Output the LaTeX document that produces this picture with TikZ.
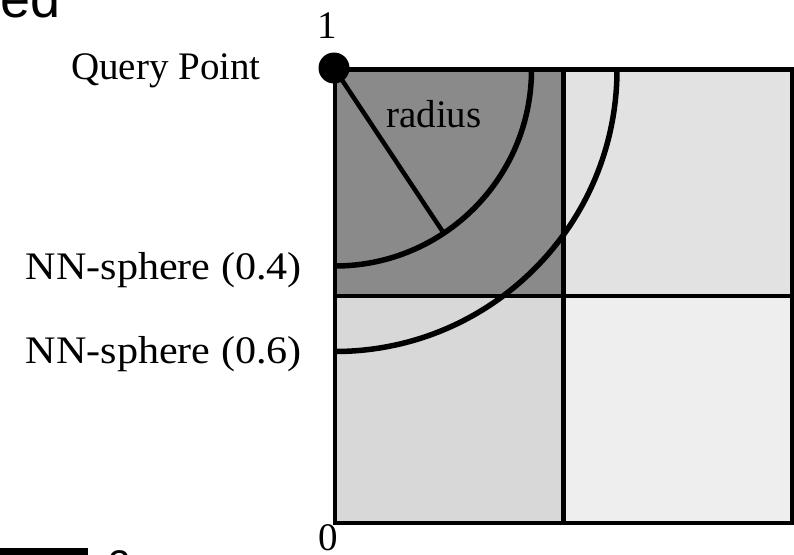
\documentclass[tikz,border=0pt]{standalone}
\usepackage{fontspec}
\setmainfont{Liberation Serif}
\newfontfamily\slidesans{Liberation Sans}
\usetikzlibrary{calc}
\definecolor{qdark}{RGB}{138,138,138}
\definecolor{qtopright}{RGB}{226,226,226}
\definecolor{qbotleft}{RGB}{216,216,216}
\definecolor{qbotright}{RGB}{238,238,238}
\begin{document}
\begin{tikzpicture}[x=1pt,y=1pt,
  lbl/.style={inner sep=0pt, font=\fontsize{39}{42}\selectfont},
  gridline/.style={line width=4.5pt},
  sphereline/.style={line width=5.5pt},
]
\useasboundingbox (0,0) rectangle (794,-554);
% quadrant fills
\fill[qdark]     (335,-69.5) rectangle (563.5,-296);
\fill[qtopright] (563.5,-69.5) rectangle (792,-296);
\fill[qbotleft]  (335,-296) rectangle (563.5,-523);
\fill[qbotright] (563.5,-296) rectangle (792,-523);
% grid
\draw[gridline] (335,-69.5) rectangle (792,-523);
\draw[gridline] (563.5,-69.5) -- (563.5,-523);
\draw[gridline] (335,-296) -- (792,-296);
% query point
\coordinate (qp) at (335,-69.5);
\draw[sphereline] (qp) ++(0,-196.5) arc[start angle=-90, end angle=0, radius=196.5];
\draw[sphereline] (qp) ++(0,-282) arc[start angle=-90, end angle=0, radius=282];
\coordinate (rend) at ($(qp)+(-56.4:196.5)$);
\draw[line width=4.5pt] (qp) -- (rend);
\node[circle, fill=black, minimum size=31pt, inner sep=0pt] (dot) at (334,-68) {};
% labels
\node[lbl, anchor=base] (one) at (327,-38) {1};
\node[lbl, anchor=base] (zero) at (328,-550) {0};
\node[lbl, anchor=base east] (query) at (261,-79) {Query Point};
\node[lbl, anchor=base west] (radius) at (386,-127) {radius};
\node[lbl, anchor=base east] (nn4) at (302,-279) {\scalebox{1.08}[1]{NN-sphere (0.4)}};
\node[lbl, anchor=base east] (nn6) at (302,-363) {\scalebox{1.08}[1]{NN-sphere (0.6)}};
% slide fragments
\node[inner sep=0pt, anchor=base east, font=\slidesans\fontsize{54}{56}\selectfont] (title) at (61,-17) {ed};
\fill[black] (0,-548) rectangle (88,-560);
\node[inner sep=0pt, anchor=base, font=\slidesans\fontsize{40}{42}\selectfont] (pagenum) at (120,-578) {2};
\end{tikzpicture}
\end{document}
